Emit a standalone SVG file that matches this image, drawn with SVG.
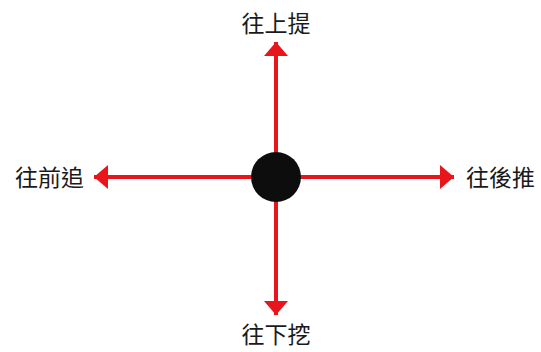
<svg xmlns="http://www.w3.org/2000/svg" width="541" height="352" viewBox="0 0 541 352">
<defs>
<marker id="ah" viewBox="0 0 14 24" refX="14" refY="12" markerWidth="14" markerHeight="24" markerUnits="userSpaceOnUse" orient="auto">
<path d="M0,0 L14,12 L0,24 Z" fill="#e8151b"/>
</marker>
<style>
.c{stroke:#e8151b;stroke-width:4;fill:none}
.t{font-family:"Noto Sans CJK TC","Noto Sans CJK SC",sans-serif;font-size:23px;fill:#1a1a1a}
</style>
</defs>
<rect width="541" height="352" fill="#fff"/>
<g id="connectors">
<line class="c" x1="276" y1="177" x2="276" y2="42" marker-end="url(#ah)"/>
<line class="c" x1="276" y1="177" x2="276" y2="315" marker-end="url(#ah)"/>
<line class="c" x1="276" y1="177" x2="94" y2="177" marker-end="url(#ah)"/>
<line class="c" x1="276" y1="177" x2="454" y2="177" marker-end="url(#ah)"/>
</g>
<g id="center"><circle cx="276" cy="177" r="25" fill="#0d0d0d"/></g>
<g id="up"><text class="t" x="276" y="32" text-anchor="middle">往上提</text></g>
<g id="down"><text class="t" x="276" y="343" text-anchor="middle">往下挖</text></g>
<g id="left"><text class="t" x="84" y="186" text-anchor="end">往前追</text></g>
<g id="right"><text class="t" x="466" y="186">往後推</text></g>
</svg>
